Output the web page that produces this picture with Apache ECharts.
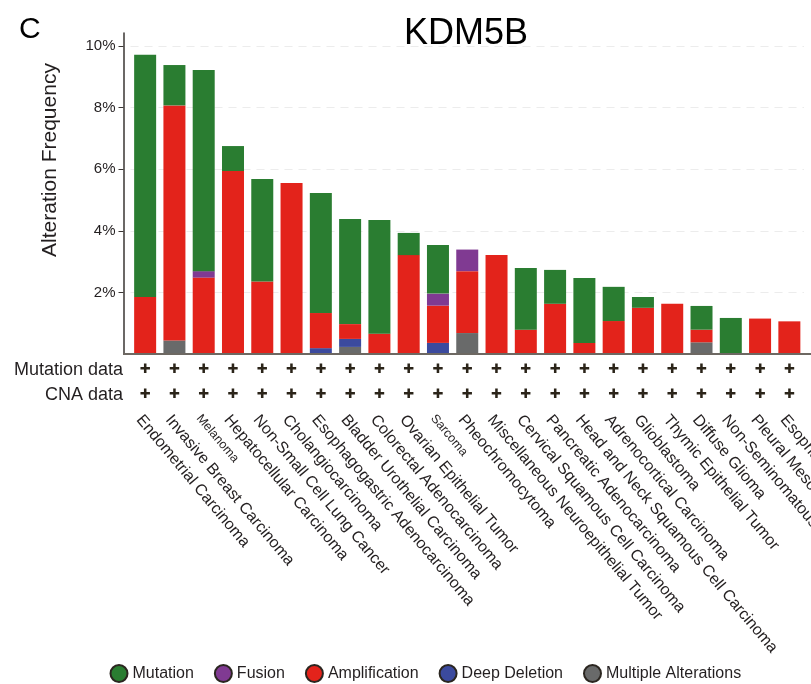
<!DOCTYPE html>
<html>
<head>
<meta charset="utf-8">
<title>KDM5B alteration frequency</title>
<script src="https://cdn.jsdelivr.net/npm/echarts@6/dist/echarts.min.js"></script>
<style>
  html, body { margin: 0; padding: 0; background: #ffffff; }
  #chart { width: 811px; height: 684px; }
</style>
</head>
<body>
<div id="chart"></div>
<script>
// Cancer types, ordered by total alteration frequency
const categories = [
  'Endometrial Carcinoma', 'Invasive Breast Carcinoma', 'Melanoma',
  'Hepatocellular Carcinoma', 'Non-Small Cell Lung Cancer', 'Cholangiocarcinoma',
  'Esophagogastric Adenocarcinoma', 'Bladder Urothelial Carcinoma',
  'Colorectal Adenocarcinoma', 'Ovarian Epithelial Tumor', 'Sarcoma',
  'Pheochromocytoma', 'Miscellaneous Neuroepithelial Tumor',
  'Cervical Squamous Cell Carcinoma', 'Pancreatic Adenocarcinoma',
  'Head and Neck Squamous Cell Carcinoma', 'Adrenocortical Carcinoma',
  'Glioblastoma', 'Thymic Epithelial Tumor', 'Diffuse Glioma',
  'Non-Seminomatous Germ Cell Tumor', 'Pleural Mesothelioma',
  'Esophageal Squamous Cell Carcinoma'
];

// Alteration frequency (%) per alteration type
const mutation      = [7.86, 1.31, 6.53, 0.81, 3.33, 0,    3.90, 3.41, 3.69, 0.72, 1.58, 0,    0,    2.00, 1.10, 2.11, 1.11, 0.35, 0,    0.77, 1.17, 0,    0];
const fusion        = [0,    0,    0.21, 0,    0,    0,    0,    0,    0,    0,    0.39, 0.70, 0,    0,    0,    0,    0,    0,    0,    0,    0,    0,    0];
const amplification = [1.85, 7.63, 2.48, 5.94, 2.35, 5.55, 1.14, 0.48, 0.66, 3.21, 1.21, 2.01, 3.21, 0.79, 1.63, 0.36, 1.07, 1.50, 1.63, 0.41, 0,    1.15, 1.06];
const deepDeletion  = [0,    0,    0,    0,    0,    0,    0.19, 0.26, 0,    0,    0.36, 0,    0,    0,    0,    0,    0,    0,    0,    0,    0,    0,    0];
const multiple      = [0,    0.44, 0,    0,    0,    0,    0,    0.23, 0,    0,    0,    0.68, 0,    0,    0,    0,    0,    0,    0,    0.38, 0,    0,    0];

// Labelled y ticks and the profiled-data rows under the chart
const yTicks = [2, 4, 6, 8, 10];
const dataRows = ['Mutation data', 'CNA data'];
const profiledMark = '\u271A';

const FONT = '"Liberation Sans", Arial, Helvetica, sans-serif';
const INK = '#231f20';
const smallNames = ['Melanoma', 'Sarcoma'];

const layers = [
  { name: 'Multiple Alterations', data: multiple,      color: '#696a6a' },
  { name: 'Deep Deletion',        data: deepDeletion,  color: '#3b4a9e' },
  { name: 'Amplification',        data: amplification, color: '#e3231b' },
  { name: 'Fusion',               data: fusion,        color: '#803a92' },
  { name: 'Mutation',             data: mutation,      color: '#2a7d31' }
];

const chart = echarts.init(document.getElementById('chart'), null, { renderer: 'canvas' });

function rowAxis(margin) {
  return {
    type: 'category',
    data: categories,
    position: 'bottom',
    axisLine: { show: false },
    axisTick: { show: false },
    splitLine: { show: false },
    axisLabel: {
      interval: 0,
      margin: margin,
      verticalAlign: 'middle',
      formatter: () => profiledMark,
      fontFamily: '"DejaVu Sans", sans-serif',
      fontSize: 13,
      color: '#2b2419'
    }
  };
}

chart.setOption({
  animation: false,
  backgroundColor: '#ffffff',
  textStyle: { fontFamily: FONT, color: INK },
  title: [
    { text: 'C', left: 14, top: 10, textStyle: { fontFamily: FONT, fontSize: 30, fontWeight: 'normal', color: '#000' } },
    { text: 'KDM5B', left: 399, top: 11, textStyle: { fontFamily: FONT, fontSize: 36, fontWeight: 'normal', color: '#000' } }
  ],
  legend: {
    data: ['Mutation', 'Fusion', 'Amplification', 'Deep Deletion', 'Multiple Alterations'],
    left: 109.5,
    top: 664,
    padding: 0,
    icon: 'circle',
    itemWidth: 17,
    itemHeight: 17,
    itemGap: 20,
    itemStyle: { borderColor: '#2b2620', borderWidth: 2 },
    textStyle: { fontFamily: FONT, fontSize: 16, color: INK }
  },
  grid: {
    left: 130.5, right: 7, top: 33, bottom: 330,
    containLabel: false,
    outerBoundsMode: 'none'
  },
  xAxis: [
    {
      type: 'category',
      data: categories,
      position: 'bottom',
      axisLine: { show: false },
      axisTick: { show: false },
      axisLabel: {
        interval: 0,
        rotate: -50,
        margin: 58,
        verticalAlign: 'top',
        fontFamily: FONT,
        fontSize: 16,
        color: INK,
        formatter: (v) => smallNames.includes(v) ? '{s|' + v + '}' : v,
        rich: { s: { fontFamily: FONT, fontSize: 12.5, color: INK } }
      }
    },
    rowAxis(16),
    rowAxis(41)
  ],
  yAxis: {
    type: 'value',
    min: 0,
    max: 10.42,
    interval: 2,
    offset: 7,
    axisLine: { show: true, lineStyle: { color: '#3a3633', width: 1.5 } },
    axisTick: { show: true, length: 5, customValues: yTicks, lineStyle: { color: '#3a3633' } },
    axisLabel: {
      customValues: yTicks,
      formatter: (v) => v + '%',
      margin: 8,
      fontFamily: FONT,
      fontSize: 15,
      color: INK
    },
    splitLine: { show: true, lineStyle: { color: '#ececec', type: [8, 6], width: 1.2 } }
  },
  series: layers.map((l) => ({
    name: l.name,
    type: 'bar',
    stack: 'total',
    xAxisIndex: 0,
    barWidth: 22,
    itemStyle: { color: l.color },
    emphasis: { disabled: true },
    data: l.data
  }))
});

// Baseline, axis title and data-row captions, positioned from the axes
const zeroY = chart.convertToPixel({ yAxisIndex: 0 }, 0);
const axisX = 123;
chart.setOption({
  graphic: [
    {
      type: 'line',
      shape: { x1: axisX, y1: zeroY, x2: 811, y2: zeroY },
      style: { stroke: '#6d6862', lineWidth: 2 },
      z: 5
    },
    {
      type: 'text',
      x: 50, y: 160,
      rotation: Math.PI / 2,
      style: {
        text: 'Alteration Frequency',
        fontFamily: FONT, fontSize: 21, fill: INK,
        textAlign: 'center', textVerticalAlign: 'middle'
      }
    }
  ].concat(dataRows.map((t, i) => ({
    type: 'text',
    x: axisX, y: zeroY + 16 + i * 25,
    style: {
      text: t,
      fontFamily: FONT, fontSize: 18, fill: INK,
      textAlign: 'right', textVerticalAlign: 'middle'
    }
  })))
});
</script>
</body>
</html>
